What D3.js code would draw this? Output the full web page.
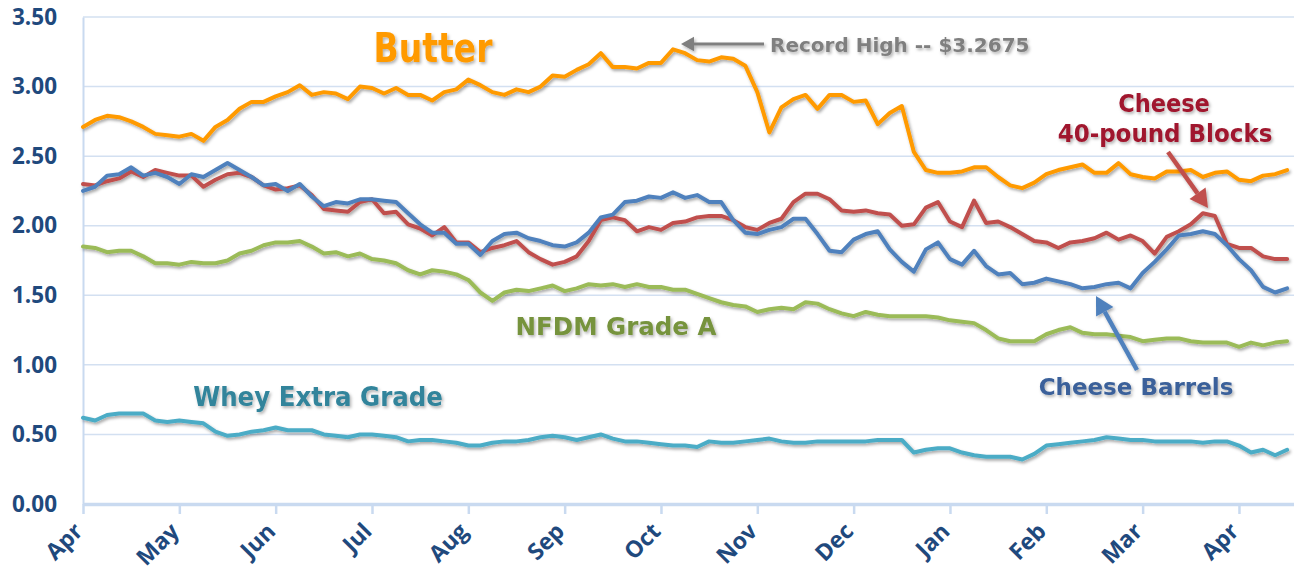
<!DOCTYPE html>
<html>
<head>
<meta charset="utf-8">
<script src="https://cdn.jsdelivr.net/npm/d3@7"></script>
<style>
  html, body { margin: 0; padding: 0; background: #ffffff; }
  svg { display: block; }
</style>
</head>
<body>
<svg id="chart" width="1294" height="571"></svg>
<script>
// ---------------- DATA ----------------
const monthLabels = ["Apr","May","Jun","Jul","Aug","Sep","Oct","Nov","Dec","Jan","Feb","Mar","Apr"];
const yTicks = [0, 0.5, 1.0, 1.5, 2.0, 2.5, 3.0, 3.5];
const samplesPerMonth = 8; // readings per month-interval on the axis

const butter = [
  2.71, 2.76, 2.79, 2.78, 2.75, 2.71, 2.66, 2.65, 2.64, 2.66,
  2.61, 2.71, 2.76, 2.84, 2.89, 2.89, 2.93, 2.96, 3.01, 2.94,
  2.96, 2.95, 2.91, 3.00, 2.99, 2.95, 2.99, 2.94, 2.94, 2.90,
  2.96, 2.98, 3.05, 3.01, 2.96, 2.94, 2.98, 2.96, 3.00, 3.08,
  3.07, 3.12, 3.16, 3.24, 3.14, 3.14, 3.13, 3.17, 3.17, 3.2675,
  3.24, 3.19, 3.18, 3.21, 3.20, 3.15, 2.96, 2.67, 2.85, 2.91,
  2.94, 2.84, 2.94, 2.94, 2.89, 2.90, 2.73, 2.81, 2.86, 2.53,
  2.40, 2.38, 2.38, 2.39, 2.42, 2.42, 2.35, 2.29, 2.27, 2.31,
  2.37, 2.40, 2.42, 2.44, 2.38, 2.38, 2.45, 2.37, 2.35, 2.34,
  2.39, 2.39, 2.40, 2.35, 2.38, 2.39, 2.33, 2.32, 2.36, 2.37, 2.40
];
const blocks = [
  2.30, 2.29, 2.32, 2.34, 2.39, 2.35, 2.40, 2.38, 2.36, 2.36,
  2.28, 2.33, 2.37, 2.38, 2.35, 2.29, 2.26, 2.27, 2.29, 2.22,
  2.12, 2.11, 2.10, 2.17, 2.19, 2.09, 2.10, 2.01, 1.98, 1.93,
  1.99, 1.88, 1.88, 1.81, 1.84, 1.86, 1.89, 1.81, 1.76, 1.72,
  1.74, 1.78, 1.89, 2.04, 2.06, 2.04, 1.96, 1.99, 1.97, 2.02,
  2.03, 2.06, 2.07, 2.07, 2.04, 1.99, 1.97, 2.02, 2.05, 2.17,
  2.23, 2.23, 2.19, 2.11, 2.10, 2.11, 2.09, 2.08, 2.00, 2.01,
  2.13, 2.17, 2.03, 1.99, 2.18, 2.02, 2.03, 1.99, 1.94, 1.89,
  1.88, 1.84, 1.88, 1.89, 1.91, 1.95, 1.90, 1.93, 1.89, 1.80,
  1.92, 1.96, 2.01, 2.09, 2.07, 1.87, 1.84, 1.84, 1.78, 1.76, 1.76
];
const barrels = [
  2.25, 2.28, 2.36, 2.37, 2.42, 2.36, 2.38, 2.35, 2.30, 2.37,
  2.35, 2.40, 2.45, 2.40, 2.35, 2.29, 2.30, 2.25, 2.30, 2.21,
  2.14, 2.17, 2.16, 2.19, 2.19, 2.18, 2.17, 2.09, 2.01, 1.95,
  1.95, 1.87, 1.87, 1.79, 1.89, 1.94, 1.95, 1.91, 1.89, 1.86,
  1.85, 1.88, 1.95, 2.06, 2.08, 2.17, 2.18, 2.21, 2.20, 2.24,
  2.20, 2.22, 2.17, 2.17, 2.04, 1.95, 1.94, 1.97, 1.99, 2.05,
  2.05, 1.94, 1.82, 1.81, 1.90, 1.94, 1.96, 1.83, 1.74, 1.67,
  1.83, 1.88, 1.76, 1.72, 1.82, 1.71, 1.65, 1.66, 1.58, 1.59,
  1.62, 1.60, 1.58, 1.55, 1.56, 1.58, 1.59, 1.55, 1.66, 1.74,
  1.83, 1.93, 1.94, 1.96, 1.94, 1.86, 1.76, 1.68, 1.56, 1.52, 1.55
];
const nfdm = [
  1.85, 1.84, 1.81, 1.82, 1.82, 1.78, 1.73, 1.73, 1.72, 1.74,
  1.73, 1.73, 1.75, 1.80, 1.82, 1.86, 1.88, 1.88, 1.89, 1.85,
  1.80, 1.81, 1.78, 1.80, 1.76, 1.75, 1.73, 1.68, 1.65, 1.68,
  1.67, 1.65, 1.61, 1.52, 1.46, 1.52, 1.54, 1.53, 1.55, 1.57,
  1.53, 1.55, 1.58, 1.57, 1.58, 1.56, 1.58, 1.56, 1.56, 1.54,
  1.54, 1.51, 1.48, 1.45, 1.43, 1.42, 1.38, 1.40, 1.41, 1.40,
  1.45, 1.44, 1.40, 1.37, 1.35, 1.38, 1.36, 1.35, 1.35, 1.35,
  1.35, 1.34, 1.32, 1.31, 1.30, 1.25, 1.19, 1.17, 1.17, 1.17,
  1.22, 1.25, 1.27, 1.23, 1.22, 1.22, 1.21, 1.20, 1.17, 1.18,
  1.19, 1.19, 1.17, 1.16, 1.16, 1.16, 1.13, 1.16, 1.14, 1.16, 1.17
];
const whey = [
  0.62, 0.60, 0.64, 0.65, 0.65, 0.65, 0.60, 0.59, 0.60, 0.59,
  0.58, 0.52, 0.49, 0.50, 0.52, 0.53, 0.55, 0.53, 0.53, 0.53,
  0.50, 0.49, 0.48, 0.50, 0.50, 0.49, 0.48, 0.45, 0.46, 0.46,
  0.45, 0.44, 0.42, 0.42, 0.44, 0.45, 0.45, 0.46, 0.48, 0.49,
  0.48, 0.46, 0.48, 0.50, 0.47, 0.45, 0.45, 0.44, 0.43, 0.42,
  0.42, 0.41, 0.45, 0.44, 0.44, 0.45, 0.46, 0.47, 0.45, 0.44,
  0.44, 0.45, 0.45, 0.45, 0.45, 0.45, 0.46, 0.46, 0.46, 0.37,
  0.39, 0.40, 0.40, 0.37, 0.35, 0.34, 0.34, 0.34, 0.32, 0.36,
  0.42, 0.43, 0.44, 0.45, 0.46, 0.48, 0.47, 0.46, 0.46, 0.45,
  0.45, 0.45, 0.45, 0.44, 0.45, 0.45, 0.42, 0.37, 0.39, 0.35, 0.39
];

const seriesList = [
  { name: "Whey Extra Grade", values: whey,    color: "#4BACC6" },
  { name: "NFDM Grade A",     values: nfdm,    color: "#9BBB59" },
  { name: "Cheese Blocks",    values: blocks,  color: "#C0504D" },
  { name: "Cheese Barrels",   values: barrels, color: "#4F81BD" },
  { name: "Butter",           values: butter,  color: "#FF9A00" }
];

// ---------------- LAYOUT ----------------
const svg = d3.select("#chart");
const plotL = 83, plotR = 1294, plotT = 17, plotB = 504;
const monthPx = 96.33;
const x = d3.scaleLinear().domain([0, (plotR - plotL) / monthPx]).range([plotL, plotR]);
const y = d3.scaleLinear().domain([0, 3.5]).range([plotB, plotT]);

const defs = svg.append("defs");
const sh = defs.append("filter").attr("id", "shadow")
  .attr("x", "-10%").attr("y", "-10%").attr("width", "120%").attr("height", "130%");
sh.append("feDropShadow").attr("dx", 1.5).attr("dy", 2).attr("stdDeviation", 1.5)
  .attr("flood-color", "#000").attr("flood-opacity", 0.35);
const tsh = defs.append("filter").attr("id", "tshadow")
  .attr("x", "-10%").attr("y", "-20%").attr("width", "120%").attr("height", "150%");
tsh.append("feDropShadow").attr("dx", 1.5).attr("dy", 2).attr("stdDeviation", 1.5)
  .attr("flood-color", "#000").attr("flood-opacity", 0.3);

const gridColor = "#D3E0F1";
const axisColor = "#C9DAF0";
const labelBlue = "#1F497D";

// gridlines
svg.append("g").selectAll("line").data(yTicks.filter(d => d > 0)).join("line")
  .attr("x1", plotL).attr("x2", plotR)
  .attr("y1", d => y(d)).attr("y2", d => y(d))
  .attr("stroke", gridColor).attr("stroke-width", 1.5);

// y axis (labels only)
const yAxis = d3.axisLeft(y).tickValues(yTicks).tickFormat(d3.format(".2f")).tickSize(0).tickPadding(26);
const yg = svg.append("g").attr("transform", `translate(${plotL},0)`).call(yAxis);
yg.select(".domain").attr("stroke", axisColor).attr("stroke-width", 2);
yg.selectAll("text")
  .attr("fill", labelBlue)
  .style("font-family", "'Open Sans', 'Noto Sans', sans-serif")
  .style("font-weight", "bold").style("font-size", "22.5px");

// x axis
const xAxis = d3.axisBottom(x).tickValues(d3.range(monthLabels.length))
  .tickFormat(i => monthLabels[i]).tickSize(10).tickSizeOuter(0).tickPadding(4);
const xg = svg.append("g").attr("transform", `translate(0,${plotB})`).call(xAxis);
xg.select(".domain").attr("stroke", axisColor).attr("stroke-width", 3.5);
xg.selectAll(".tick line").attr("stroke", axisColor).attr("stroke-width", 2.5);
xg.selectAll("text")
  .attr("fill", labelBlue)
  .style("font-family", "'Open Sans', 'Noto Sans', sans-serif")
  .style("font-weight", "bold").style("font-size", "23px")
  .attr("text-anchor", "end")
  .attr("transform", "translate(-5,23) rotate(-45)")
  .attr("dy", "0.35em").attr("y", 0).attr("x", 0);

// lines
const line = d3.line()
  .x((d, i) => x(i / samplesPerMonth))
  .y(d => y(d))
  .curve(d3.curveLinear);

svg.append("g").attr("filter", "url(#shadow)")
  .selectAll("path").data(seriesList).join("path")
  .attr("d", d => line(d.values))
  .attr("fill", "none")
  .attr("stroke", d => d.color)
  .attr("stroke-width", 4)
  .attr("stroke-linejoin", "round")
  .attr("stroke-linecap", "round");

// ---------------- ANNOTATIONS ----------------
const handFont = "'DejaVu Sans', 'Verdana', sans-serif";
const ann = svg.append("g").attr("filter", "url(#tshadow)");

function label(txt, xx, yy, color, size, sy, anchor) {
  ann.append("text")
    .attr("transform", `translate(${xx},${yy}) scale(1,${sy})`)
    .attr("text-anchor", anchor || "middle")
    .attr("fill", color)
    .style("font-family", handFont).style("font-weight", "bold")
    .style("font-size", size + "px")
    .text(txt);
}

function arrow(x1, y1, x2, y2, color, w, head) {
  const ang = Math.atan2(y2 - y1, x2 - x1);
  const hl = head, hw = head * 0.55;
  const bx = x2 - hl * Math.cos(ang), by = y2 - hl * Math.sin(ang);
  ann.append("line").attr("x1", x1).attr("y1", y1).attr("x2", bx).attr("y2", by)
    .attr("stroke", color).attr("stroke-width", w);
  const px = -Math.sin(ang), py = Math.cos(ang);
  ann.append("path")
    .attr("d", `M${x2},${y2} L${bx + px * hw},${by + py * hw} L${bx - px * hw},${by - py * hw} Z`)
    .attr("fill", color);
}

label("Butter", 433, 62, "#FF9A00", 33, 1.25);
label("Record High -- $3.2675", 770, 52, "#7F7F7F", 20, 1.0, "start");
arrow(764, 44, 681, 44, "#7F7F7F", 3, 13);

label("Cheese", 1164, 112, "#A0192E", 22.5, 1.1);
label("40-pound Blocks", 1165, 142, "#A0192E", 23, 1.1);
arrow(1168, 152, 1208, 208, "#C0504D", 4.5, 18);

label("Cheese Barrels", 1136, 395, "#3A619A", 23, 1.0);
arrow(1137, 370, 1096, 296, "#4F81BD", 4.5, 18);

label("NFDM Grade A", 616, 335, "#76933C", 24.5, 1.0);
label("Whey Extra Grade", 318, 406, "#31849B", 24.5, 1.06);
</script>
</body>
</html>
